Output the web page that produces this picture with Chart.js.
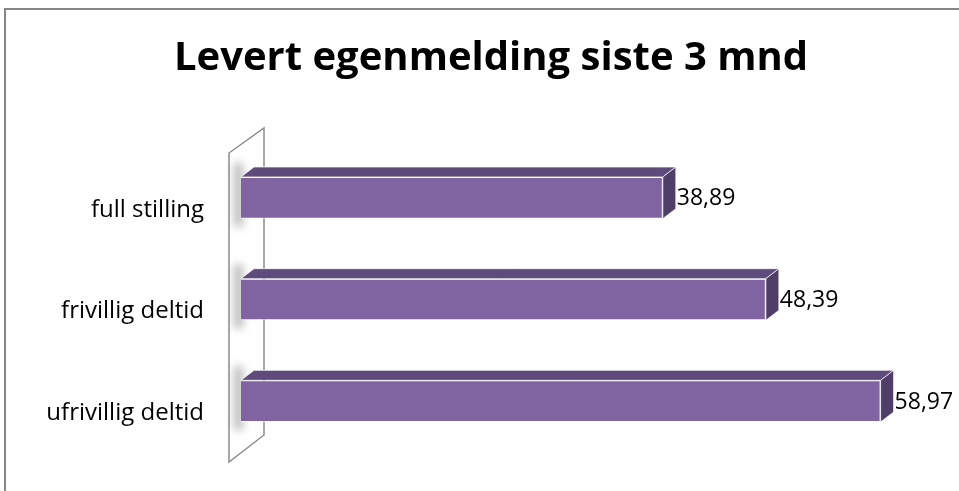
<!DOCTYPE html>
<html>
<head>
<meta charset="utf-8">
<script src="https://cdn.jsdelivr.net/npm/chart.js@4.4.1/dist/chart.umd.min.js"></script>
<style>
    html, body { margin: 0; padding: 0; background: #fff; overflow: hidden; }
    #frame {
        position: absolute; left: 4px; top: 8px; width: 975px; height: 490px;
        border-top: 2px solid #868686; border-left: 2px solid #868686;
    }
    canvas { display: block; }
</style>
</head>
<body>
<div id="frame"><canvas id="chart" width="971" height="481"></canvas></div>
<script>
// Data
const categories = ["full stilling", "frivillig deltid", "ufrivillig deltid"];
const values = [38.89, 48.39, 58.97];
const valueLabels = values.map(v => v.toFixed(2).replace(".", ","));

const FONT = "'Open Sans', sans-serif";
const DX = 13, DY = -10; // bar depth

// Back wall behind the category axis
const wallPlugin = {
    id: "wall",
    beforeDatasetsDraw(chart) {
        const ctx = chart.ctx;
        const a = chart.chartArea;
        const fl = a.left - 12, br = a.left + 23;
        ctx.save();
        ctx.beginPath();
        ctx.moveTo(fl, a.top + 6);
        ctx.lineTo(br, a.top - 19);
        ctx.lineTo(br, a.bottom - 17);
        ctx.lineTo(fl, a.bottom + 10);
        ctx.closePath();
        ctx.fillStyle = "#ffffff";
        ctx.fill();
        ctx.strokeStyle = "#8c8c8c";
        ctx.lineWidth = 1.5;
        ctx.stroke();
        // soft shadows at the foot of each bar
        const meta = chart.getDatasetMeta(0);
        ctx.filter = "blur(4px)";
        ctx.fillStyle = "rgba(120,120,120,0.5)";
        meta.data.forEach(bar => {
            const p = bar.getProps(["y", "base", "height"], true);
            ctx.fillRect(p.base - 7, p.y - p.height / 2 - 14, 9, p.height + 22);
        });
        ctx.restore();
    }
};

// Top and side faces + value labels
const bar3dPlugin = {
    id: "bar3d",
    afterDatasetsDraw(chart) {
        const ctx = chart.ctx;
        const meta = chart.getDatasetMeta(0);
        ctx.save();
        ctx.lineWidth = 1;
        ctx.strokeStyle = "rgba(255,255,255,0.7)";
        meta.data.forEach((bar, i) => {
            const p = bar.getProps(["x", "y", "base", "height"], true);
            const top = p.y - p.height / 2, bot = p.y + p.height / 2;
            ctx.fillStyle = "#5f4b7b";
            ctx.beginPath();
            ctx.moveTo(p.base, top);
            ctx.lineTo(p.base + DX, top + DY);
            ctx.lineTo(p.x + DX, top + DY);
            ctx.lineTo(p.x, top);
            ctx.closePath();
            ctx.fill();
            ctx.stroke();
            ctx.fillStyle = "#4f3e68";
            ctx.beginPath();
            ctx.moveTo(p.x, top);
            ctx.lineTo(p.x + DX, top + DY);
            ctx.lineTo(p.x + DX, bot + DY);
            ctx.lineTo(p.x, bot);
            ctx.closePath();
            ctx.fill();
            ctx.stroke();
            ctx.fillStyle = "#000";
            ctx.font = "23px " + FONT;
            ctx.textAlign = "left";
            ctx.textBaseline = "middle";
            ctx.fillText(valueLabels[i], p.x + DX + 1, p.y + 1);
        });
        ctx.restore();
    }
};

new Chart(document.getElementById("chart"), {
    type: "bar",
    data: {
        labels: categories,
        datasets: [{
            data: values,
            backgroundColor: "#8064a2",
            borderColor: "rgba(255,255,255,0.7)",
            borderWidth: 1,
            categoryPercentage: 1,
            barPercentage: 0.41
        }]
    },
    options: {
        indexAxis: "y",
        responsive: false,
        animation: false,
        layout: { padding: { left: 30, right: 31, top: 0, bottom: 39 } },
        plugins: {
            legend: { display: false },
            tooltip: { enabled: false },
            title: {
                display: true,
                text: "Levert egenmelding siste 3 mnd",
                color: "#000",
                font: { family: FONT, size: 40, weight: "bold" },
                padding: { top: 25, bottom: 64 }
            }
        },
        scales: {
            x: { display: false, min: 0, max: 65 },
            y: {
                grid: { display: false },
                border: { display: false },
                ticks: { color: "#000", padding: 29, labelOffset: 12, font: { family: FONT, size: 24 } },
                afterFit(scale) {
                    scale.width = 205;
                    scale.paddingTop = 0;
                    scale.paddingBottom = 0;
                }
            }
        }
    },
    plugins: [wallPlugin, bar3dPlugin]
});
</script>
</body>
</html>
